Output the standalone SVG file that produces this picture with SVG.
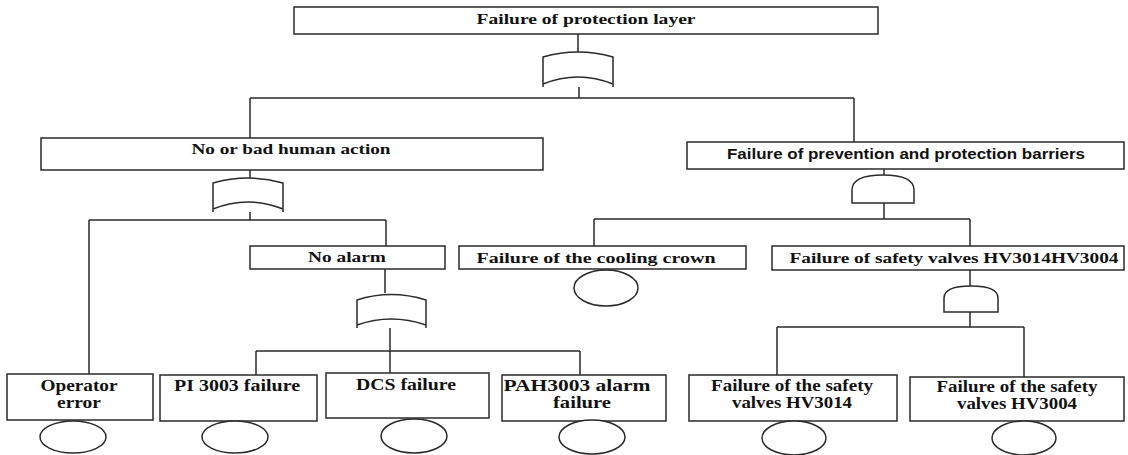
<svg xmlns="http://www.w3.org/2000/svg" width="1128" height="455" viewBox="0 0 1128 455">
<style>
.box{fill:#fff;stroke:#2a2a2a;stroke-width:1.5}
.ln{fill:none;stroke:#2a2a2a;stroke-width:1.5}
.gate{fill:#fff;stroke:#2a2a2a;stroke-width:1.5}
.ev{fill:#fff;stroke:#2a2a2a;stroke-width:1.5}
.t{font-family:"Liberation Serif","Times New Roman",serif;font-weight:bold;fill:#111;text-anchor:middle}
.s{font-family:"Liberation Sans",Arial,sans-serif;font-weight:bold;fill:#111;text-anchor:middle}
</style>
<rect width="1128" height="455" fill="#fff"/>
<g id="connectors">
<path class="ln" d="M578 34V52M579 77V98M250 98H854M250 98V138M854 98V142"/>
<path class="ln" d="M250 170V178M250 202V220M89 220H386M89 220V374M386 220V246"/>
<path class="ln" d="M385 269V293M390 320V373M256 351H580M256 351V375M580 351V375"/>
<path class="ln" d="M884 168V176M884 203V219M594 219H970M594 219V246M970 219V246"/>
<path class="ln" d="M970 270V286M970 312V327M777 327H1024M777 327V375M1024 327V377"/>
</g>
<g id="g-top">
<path class="gate" d="M543 87V57Q578 47 613 57V87M543 84Q578 70 613 84"/>
</g>
<g id="g-human">
<path class="gate" d="M213 212V183Q248 173 283 183V212M213 209Q248 195 283 209"/>
</g>
<g id="g-alarm">
<path class="gate" d="M357 328V300Q391 289 426 300V328M357 325Q391 313 426 325"/>
</g>
<g id="g-prev">
<path class="gate" d="M852 203V190Q852 175 883 175Q914 175 914 190V203Z"/>
</g>
<g id="g-valves">
<path class="gate" d="M944 312V298Q944 286 971 286Q998 286 998 298V312Z"/>
</g>
<g id="n-top">
<rect class="box" x="294" y="7" width="584" height="27"/>
<text class="t" x="586" y="24" font-size="14" textLength="219" lengthAdjust="spacingAndGlyphs">Failure of protection layer</text>
</g>
<g id="n-human">
<rect class="box" x="41" y="138" width="502" height="32"/>
<text class="t" x="291" y="154" font-size="14.5" textLength="199" lengthAdjust="spacingAndGlyphs">No or bad human action</text>
</g>
<g id="n-prev">
<rect class="box" x="687" y="142" width="437" height="27"/>
<text class="s" x="906" y="159" font-size="14" textLength="358" lengthAdjust="spacingAndGlyphs">Failure of prevention and protection barriers</text>
</g>
<g id="n-alarm">
<rect class="box" x="250" y="246" width="195" height="23"/>
<text class="t" x="347" y="262" font-size="15" textLength="78" lengthAdjust="spacingAndGlyphs">No alarm</text>
</g>
<g id="n-cool">
<rect class="box" x="459" y="246" width="287" height="23"/>
<text class="t" x="596" y="263" font-size="15" textLength="239" lengthAdjust="spacingAndGlyphs">Failure of the cooling crown</text>
<ellipse class="ev" cx="606" cy="288" rx="32" ry="18"/>
</g>
<g id="n-valves">
<rect class="box" x="772" y="246" width="352" height="24"/>
<text class="t" x="954" y="263" font-size="15" textLength="329" lengthAdjust="spacingAndGlyphs">Failure of safety valves HV3014HV3004</text>
</g>
<g id="n-operator">
<rect class="box" x="7" y="374" width="146" height="46"/>
<text class="t" x="79" y="391" font-size="16" textLength="77" lengthAdjust="spacingAndGlyphs">Operator</text>
<text class="t" x="79" y="408" font-size="16" textLength="44" lengthAdjust="spacingAndGlyphs">error</text>
<ellipse class="ev" cx="73" cy="437" rx="33" ry="16"/>
</g>
<g id="n-pi">
<rect class="box" x="160" y="375" width="157" height="46"/>
<text class="t" x="237" y="391" font-size="16" textLength="126" lengthAdjust="spacingAndGlyphs">PI 3003 failure</text>
<ellipse class="ev" cx="235" cy="437" rx="33" ry="16"/>
</g>
<g id="n-dcs">
<rect class="box" x="326" y="373" width="163" height="45"/>
<text class="t" x="406" y="390" font-size="16" textLength="100" lengthAdjust="spacingAndGlyphs">DCS failure</text>
<ellipse class="ev" cx="414" cy="436" rx="33" ry="17"/>
</g>
<g id="n-pah">
<rect class="box" x="502" y="375" width="164" height="46"/>
<text class="t" x="577" y="391" font-size="16" textLength="147" lengthAdjust="spacingAndGlyphs">PAH3003 alarm</text>
<text class="t" x="582" y="408" font-size="16" textLength="58" lengthAdjust="spacingAndGlyphs">failure</text>
<ellipse class="ev" cx="592" cy="437" rx="33" ry="17"/>
</g>
<g id="n-hv3014">
<rect class="box" x="689" y="375" width="208" height="46"/>
<text class="t" x="792" y="391" font-size="16" textLength="162" lengthAdjust="spacingAndGlyphs">Failure of the safety</text>
<text class="t" x="792" y="408" font-size="16" textLength="120" lengthAdjust="spacingAndGlyphs">valves HV3014</text>
<ellipse class="ev" cx="794" cy="438" rx="32" ry="17"/>
</g>
<g id="n-hv3004">
<rect class="box" x="910" y="377" width="214" height="44"/>
<text class="t" x="1017" y="392" font-size="16" textLength="161" lengthAdjust="spacingAndGlyphs">Failure of the safety</text>
<text class="t" x="1017" y="409" font-size="16" textLength="120" lengthAdjust="spacingAndGlyphs">valves HV3004</text>
<ellipse class="ev" cx="1024" cy="438" rx="32" ry="17"/>
</g>
</svg>
